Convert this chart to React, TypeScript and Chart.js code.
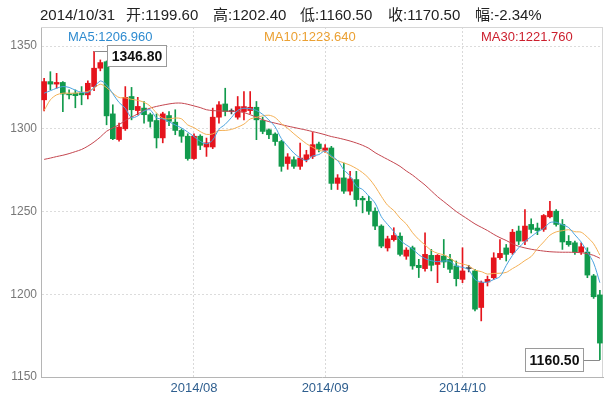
import React, { useEffect, useRef } from "react";
import { Chart, registerables } from "chart.js";

Chart.register(...registerables);

const dates: string[] = [
  "2014/06/30",
  "2014/07/01","2014/07/02","2014/07/03","2014/07/04","2014/07/07","2014/07/08","2014/07/09","2014/07/10","2014/07/11",
  "2014/07/14","2014/07/15","2014/07/16","2014/07/17","2014/07/18","2014/07/21","2014/07/22","2014/07/23","2014/07/24","2014/07/25",
  "2014/07/28","2014/07/29","2014/07/30","2014/07/31",
  "2014/08/01","2014/08/04","2014/08/05","2014/08/06","2014/08/07","2014/08/08","2014/08/11","2014/08/12","2014/08/13","2014/08/14",
  "2014/08/15","2014/08/18","2014/08/19","2014/08/20","2014/08/21","2014/08/22","2014/08/25","2014/08/26","2014/08/27","2014/08/28","2014/08/29",
  "2014/09/01","2014/09/02","2014/09/03","2014/09/04","2014/09/05","2014/09/08","2014/09/09","2014/09/10","2014/09/11","2014/09/12",
  "2014/09/15","2014/09/16","2014/09/17","2014/09/18","2014/09/19","2014/09/22","2014/09/23","2014/09/24","2014/09/25","2014/09/26",
  "2014/09/29","2014/09/30",
  "2014/10/01","2014/10/02","2014/10/03","2014/10/06","2014/10/07","2014/10/08","2014/10/09","2014/10/10","2014/10/13","2014/10/14",
  "2014/10/15","2014/10/16","2014/10/17","2014/10/20","2014/10/21","2014/10/22","2014/10/23","2014/10/24","2014/10/27","2014/10/28",
  "2014/10/29","2014/10/30","2014/10/31",
];

const monthTickLabels: string[] = ["2014/08", "2014/09", "2014/10"];
const yTickValues: number[] = [1150, 1200, 1250, 1300, 1350];

const opens: number[] = [
  1317.5,1328.5,1327,1328,1321,1321.5,1321.5,1320.5,1325.5,1336.6,
  1340.5,1309,1293.5,1300,1319.5,1311,1312.5,1308.5,1305,1294.5,
  1308,1304,1299,1295.5,1282,1295.5,1289,1289,1307,1315,
  1310.4,1307,1310.4,1311,1313,1305,1299.4,1296.8,1292.3,1279,
  1281.3,1277.3,1281.3,1283.3,1290.8,1287,1288.4,1267,1270.3,1262.3,
  1269.3,1258,1256.2,1250.2,1241.2,1228,1233,1235.1,1223,1228.1,
  1217.5,1215.5,1223.5,1218,1223.1,1221.1,1217.1,1209,1215.5,1214.1,
  1192,1207.4,1210,1222.1,1228,1225.1,1238.2,1232.1,1242.2,1240,
  1239.2,1246.8,1250.2,1242.2,1232,1231.1,1225.5,1225.5,1211.1,1199.6,
];

const highs: number[] = [
  1330.5,1334.5,1333.5,1328.5,1323.5,1323.5,1325.5,1329,1346.8,1341.6,
  1341,1314.5,1303.5,1325.5,1325,1319,1316.5,1309.5,1309,1310,
  1310.4,1311.5,1300,1297,1297,1296.4,1294.4,1312.5,1316.5,1324.5,
  1312,1319.5,1322.5,1322.5,1316.5,1307,1300,1297.5,1293,1285,
  1283,1291.4,1287,1297.8,1292,1290.4,1289.4,1272.3,1279.3,1274.3,
  1274.3,1259.2,1259.2,1252.2,1242,1235.1,1240.2,1237.1,1228.1,1229.1,
  1221.1,1237.1,1227.1,1224,1233.1,1224.1,1220.1,1228.1,1217.5,1215.1,
  1208,1211,1225.1,1233.1,1230.1,1239.2,1241.2,1251.2,1245.6,1243,
  1248.2,1256.2,1251.2,1245.2,1235.5,1232.1,1231.1,1228.1,1212,1202.4,
];

const lows: number[] = [
  1310.8,1323.5,1324.5,1310.4,1318,1312.7,1314.5,1318,1323,1335,
  1302.4,1293.4,1292.5,1299,1305.4,1308.4,1303.4,1301,1288.4,1291.5,
  1301.8,1296.4,1291.8,1281,1281.5,1287.4,1283.3,1288,1303.4,1307.8,
  1309,1305.8,1305.4,1309,1293.4,1297,1294,1290,1274.3,1275.5,
  1276,1275.5,1280,1282,1286,1285.7,1263.3,1263.3,1261,1260,
  1253.2,1249.2,1248.2,1239,1228.1,1226.1,1232.1,1223.1,1221.1,1215.1,
  1210.1,1214,1214.1,1207,1216.1,1213,1205,1207,1213.5,1190,
  1183.9,1205,1209,1221,1220.1,1224.1,1230,1230,1237,1236,
  1238,1246.2,1241.2,1227.1,1229,1224,1224.1,1210,1197.5,1160.5,
];

const closes: number[] = [
  1328.5,1327,1328,1321,1320.5,1320,1320.5,1327.5,1336.6,1340,
  1307.8,1294,1301,1319,1311.5,1313.5,1308.5,1304.5,1294.5,1309,
  1304.5,1299,1295.5,1282,1295.5,1290,1291.5,1307,1314.5,1310.5,
  1310.4,1313.4,1313.4,1313,1305.4,1298.4,1296.4,1292.3,1277.3,1283,
  1277.3,1282.3,1284.3,1290.4,1287.8,1288.4,1267,1270.3,1262.3,1269.7,
  1257.2,1257,1250.2,1241.2,1229.1,1233.5,1235.5,1224.1,1226.7,1217.1,
  1216.1,1224.1,1217.5,1223.5,1219.5,1215.1,1209.4,1214.1,1215.5,1191,
  1207,1209,1222,1224.7,1224.1,1237.5,1232.1,1241.2,1239.2,1238.5,
  1247.6,1250.2,1242.2,1231.6,1230,1225.5,1228.7,1211.6,1198.5,1170.5,
];

const ma5: number[] = [
  1321.5,1323,1324.5,1325.5,1325.0,1323.3,1322.0,1321.9,1325.0,1328.9,
  1326.5,1321.2,1315.9,1312.4,1306.7,1307.8,1310.7,1311.4,1306.5,1306.0,
  1304.2,1302.3,1300.5,1298.0,1295.3,1292.4,1290.9,1293.2,1299.7,1302.7,
  1306.8,1311.1,1312.4,1312.1,1311.1,1308.7,1305.3,1301.1,1294.0,1289.5,
  1285.3,1282.4,1280.8,1283.5,1284.4,1286.6,1283.6,1280.8,1275.2,1271.5,
  1265.3,1263.3,1259.3,1255.1,1246.9,1242.2,1237.9,1232.7,1229.8,1227.4,
  1223.9,1221.6,1220.3,1219.7,1220.1,1219.9,1217.0,1216.3,1214.7,1209.0,
  1207.4,1207.3,1208.9,1210.7,1217.4,1223.5,1228.1,1231.9,1234.8,1237.7,
  1239.7,1243.3,1243.5,1242.0,1240.3,1235.9,1231.6,1225.5,1218.9,1206.96,
];

const ma10: number[] = [
  1311,1317.5,1320.5,1321.5,1321.5,1321.5,1322,1322.5,1324.5,1326.95,
  1324.9,1321.6,1318.9,1318.7,1317.8,1317.2,1316.0,1313.7,1309.5,1306.4,
  1306.0,1306.5,1306.0,1302.3,1300.7,1298.3,1296.6,1296.9,1298.9,1299.0,
  1299.6,1301.0,1302.8,1305.9,1306.9,1307.8,1308.2,1306.8,1303.1,1300.3,
  1297.0,1293.9,1291.0,1288.8,1287.0,1286.0,1283.0,1280.8,1279.4,1278.0,
  1276.0,1273.5,1270.1,1265.2,1259.2,1253.8,1250.6,1246.0,1242.5,1237.2,
  1233.1,1229.8,1226.5,1224.8,1223.8,1221.9,1219.3,1218.3,1217.2,1214.6,
  1213.7,1212.2,1212.6,1212.7,1213.2,1215.5,1217.7,1220.4,1222.8,1227.6,
  1231.6,1235.7,1237.7,1238.4,1239.0,1237.8,1237.5,1234.5,1230.5,1223.64,
];

const ma30: number[] = [
  1281.5,1282.3,1283.2,1284,1285,1286.2,1287.5,1289.5,1292,1295,
  1298.5,1300.5,1302.5,1305,1307,1309,1311,1312.5,1313.5,1314.3,
  1315,1315.5,1315.5,1314.8,1313.8,1312.8,1311.5,1311,1310.8,1310.6,
  1310.5,1310.4,1309.8,1308.5,1307,1305.5,1304.3,1303.4,1302.5,1301.6,
  1300.8,1300,1299.2,1298.3,1297.4,1296.4,1295.3,1294.5,1293.6,1292.6,
  1291.4,1290,1288.2,1285.6,1283.5,1281.5,1279.5,1277.3,1274.5,1272,
  1269,1266,1262.5,1259,1256,1253,1250,1247.5,1245,1242.5,
  1240.5,1238.5,1236.2,1234.2,1232.5,1230.5,1229,1228,1227.2,1226.6,
  1226.1,1225.7,1225.5,1225.4,1225.4,1225.3,1225.1,1224.5,1223.5,1221.76,
];

const FONT = "'Liberation Sans', Arial, 'Noto Sans CJK SC', sans-serif";
const UP = "#e5141c";
const DOWN = "#119a4c";
const FLAT = "#4a4a4a";
const MA5_LINE = "#4aa3df";
const MA10_LINE = "#f4b055";
const MA30_LINE = "#c4464f";

function candleColor(i: number): string {
  if (closes[i] > opens[i]) return UP;
  if (closes[i] < opens[i]) return DOWN;
  return FLAT;
}

export default function App() {
  const canvasRef = useRef<HTMLCanvasElement | null>(null);

  useEffect(() => {
    document.body.style.margin = "0";
    const canvas = canvasRef.current;
    if (!canvas) return;

    const tickLabelAt: Record<number, string> = {};
    dates.forEach((d, i) => {
      const m = d.slice(0, 7);
      if (monthTickLabels.includes(m) && (i === 0 || dates[i - 1].slice(0, 7) !== m)) {
        tickLabelAt[i] = m;
      }
    });

    const colors = dates.map((_, i) => candleColor(i));

    const overlay = {
      id: "overlay",
      beforeDatasetsDraw(chart: any) {
        const { ctx, chartArea } = chart;
        ctx.save();
        ctx.strokeStyle = "#d6d6d6";
        ctx.lineWidth = 1;
        ctx.beginPath();
        ctx.moveTo(chartArea.left, Math.round(chartArea.top) + 0.5);
        ctx.lineTo(chartArea.right, Math.round(chartArea.top) + 0.5);
        ctx.moveTo(Math.round(chartArea.right) - 0.5, chartArea.top);
        ctx.lineTo(Math.round(chartArea.right) - 0.5, chartArea.bottom);
        ctx.stroke();
        ctx.restore();
      },
      afterDatasetsDraw(chart: any) {
        const { ctx } = chart;
        const xs = chart.scales.x;
        const ys = chart.scales.y;
        let iMax = 0;
        let iMin = 0;
        highs.forEach((h, i) => { if (h > highs[iMax]) iMax = i; });
        lows.forEach((l, i) => { if (l < lows[iMin]) iMin = i; });
        ctx.save();
        ctx.font = `bold 14px ${FONT}`;
        ctx.textAlign = "center";
        ctx.textBaseline = "middle";
        {
          const x = xs.getPixelForValue(iMax);
          const y = Math.round(ys.getPixelForValue(highs[iMax])) + 0.5;
          const bx = Math.round(x + 13) + 0.5;
          const bw = 59, bh = 21;
          const by = Math.round(y - 7) + 0.5;
          ctx.strokeStyle = "#8a8a8a";
          ctx.lineWidth = 1;
          ctx.beginPath();
          ctx.moveTo(x, y);
          ctx.lineTo(bx, y);
          ctx.stroke();
          ctx.fillStyle = "#ffffff";
          ctx.fillRect(bx, by, bw, bh);
          ctx.strokeStyle = "#9a9a9a";
          ctx.strokeRect(bx, by, bw, bh);
          ctx.fillStyle = "#111";
          ctx.fillText(highs[iMax].toFixed(2), bx + bw / 2, by + bh / 2 + 1);
        }
        {
          const x = xs.getPixelForValue(iMin);
          const y = Math.round(ys.getPixelForValue(lows[iMin])) + 0.5;
          const bw = 58, bh = 23;
          const bx = Math.round(x - 17 - bw) + 0.5;
          const by = Math.round(y - 13) + 0.5;
          ctx.strokeStyle = "#8a8a8a";
          ctx.lineWidth = 1;
          ctx.beginPath();
          ctx.moveTo(bx + bw, y);
          ctx.lineTo(x, y);
          ctx.stroke();
          ctx.fillStyle = "#ffffff";
          ctx.fillRect(bx, by, bw, bh);
          ctx.strokeStyle = "#9a9a9a";
          ctx.strokeRect(bx, by, bw, bh);
          ctx.fillStyle = "#111";
          ctx.fillText(lows[iMin].toFixed(2), bx + bw / 2, by + bh / 2 + 1);
        }
        ctx.restore();
      },
    };

    const chart = new Chart(canvas, {
      type: "bar",
      data: {
        labels: dates,
        datasets: [
          { type: "line", label: "MA5", data: ma5, borderColor: MA5_LINE, borderWidth: 1, pointRadius: 0, tension: 0.3, order: 0 } as any,
          { type: "line", label: "MA10", data: ma10, borderColor: MA10_LINE, borderWidth: 1, pointRadius: 0, tension: 0.3, order: 0 } as any,
          { type: "line", label: "MA30", data: ma30, borderColor: MA30_LINE, borderWidth: 1, pointRadius: 0, tension: 0.3, order: 0 } as any,
          {
            type: "bar",
            label: "body",
            data: opens.map((o, i) => [Math.min(o, closes[i]), Math.max(o, closes[i])]),
            backgroundColor: colors,
            borderWidth: 0,
            barThickness: 5,
            minBarLength: 1,
            grouped: false,
            order: 1,
          } as any,
          {
            type: "bar",
            label: "wick",
            data: lows.map((l, i) => [l, highs[i]]),
            backgroundColor: colors,
            borderWidth: 0,
            barThickness: 1,
            grouped: false,
            order: 2,
          } as any,
        ],
      },
      options: {
        animation: false,
        responsive: false,
        maintainAspectRatio: false,
        events: [],
        layout: { padding: { top: 27, right: 2, bottom: 0, left: 0 } },
        plugins: {
          legend: { display: false },
          tooltip: { enabled: false },
        },
        scales: {
          x: {
            type: "category",
            offset: true,
            grid: {
              offset: false,
              drawTicks: false,
              color: (c: any) => (tickLabelAt[c.index] ? "#d9d9d9" : "rgba(0,0,0,0)"),
            },
            border: { display: true, color: "#b5b5b5", dash: [2, 2] },
            ticks: {
              autoSkip: false,
              maxRotation: 0,
              minRotation: 0,
              padding: 4,
              color: "#2f5f8f",
              font: { size: 13, family: FONT },
              callback: (_v: any, i: number) => tickLabelAt[i] ?? "",
            },
            afterFit: (s: any) => { s.height = 19; },
          } as any,
          y: {
            type: "linear",
            min: 1150,
            max: 1361.5,
            afterBuildTicks: (s: any) => { s.ticks = yTickValues.map((v) => ({ value: v })); },
            grid: {
              drawTicks: false,
              color: (c: any) => (c.tick && c.tick.value === 1150 ? "rgba(0,0,0,0)" : "#dcdcdc"),
            },
            border: { display: true, color: "#b5b5b5", dash: [2, 2] },
            ticks: {
              padding: 4,
              color: "#777777",
              font: { size: 12, family: FONT },
              callback: (v: any) => String(v),
            },
            afterFit: (s: any) => { s.width = 41; },
          } as any,
        },
      },
      plugins: [overlay],
    });

    return () => chart.destroy();
  }, []);

  const n = dates.length - 1;
  const pct = ((closes[n] - closes[n - 1]) / closes[n - 1]) * 100;
  const headerItems: string[] = [
    dates[n],
    `开:${opens[n].toFixed(2)}`,
    `高:${highs[n].toFixed(2)}`,
    `低:${lows[n].toFixed(2)}`,
    `收:${closes[n].toFixed(2)}`,
    `幅:${pct.toFixed(2)}%`,
  ];
  const headerLefts: number[] = [40, 126, 213, 300, 388, 475];

  const maLabel = (text: string, left: number, color: string) => (
    <div
      style={{
        position: "absolute",
        left,
        top: 29,
        fontSize: 13,
        lineHeight: "15px",
        color,
        whiteSpace: "nowrap",
      }}
    >
      {text}
    </div>
  );

  return (
    <div style={{ position: "relative", width: 605, height: 396, fontFamily: FONT, background: "#fff", overflow: "hidden" }}>
      <canvas ref={canvasRef} width={605} height={396} style={{ position: "absolute", left: 0, top: 0, width: 605, height: 396 }} />
      {headerItems.map((t, i) => (
        <div
          key={i}
          style={{
            position: "absolute",
            left: headerLefts[i],
            top: 6,
            fontSize: 15,
            lineHeight: "17px",
            color: "#222",
            whiteSpace: "nowrap",
          }}
        >
          {t}
        </div>
      ))}
      {maLabel(`MA5:${ma5[n].toFixed(3)}`, 68, "#2e8bd0")}
      {maLabel(`MA10:${ma10[n].toFixed(3)}`, 264, "#eba032")}
      {maLabel(`MA30:${ma30[n].toFixed(3)}`, 481, "#cc1f2d")}
    </div>
  );
}
